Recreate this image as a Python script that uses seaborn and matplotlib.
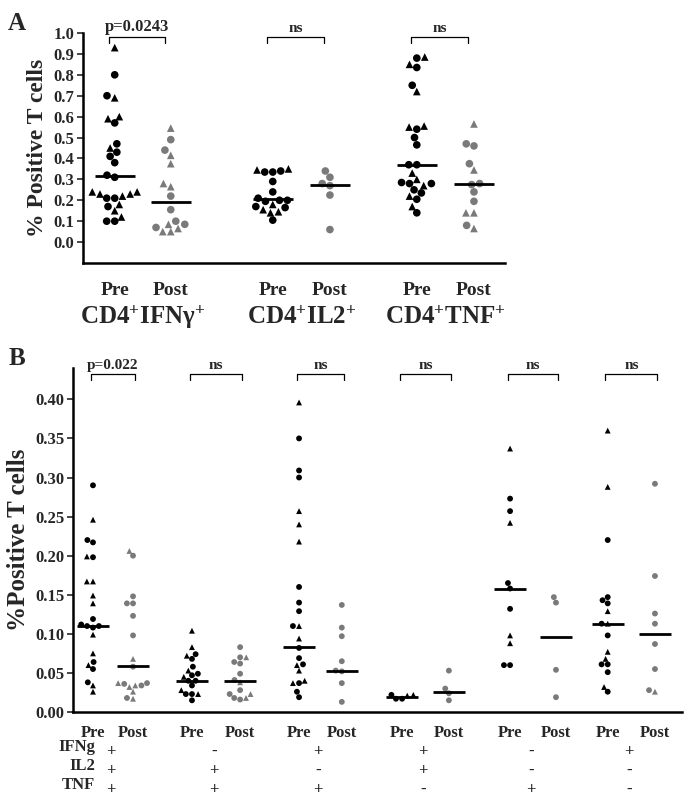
import matplotlib
matplotlib.use("Agg")
import matplotlib.pyplot as plt
from matplotlib.markers import MarkerStyle
import seaborn as sns
import pandas as pd
import numpy as np

sns.set_theme(style="white")
plt.rcParams["font.family"] = ["Liberation Serif", "DejaVu Serif"]
plt.rcParams["font.weight"] = "bold"
plt.rcParams["mathtext.fontset"] = "custom"
plt.rcParams["mathtext.rm"] = "Liberation Serif:bold"
plt.rcParams["mathtext.bf"] = "Liberation Serif:bold"
plt.rcParams["mathtext.it"] = "Liberation Serif:bold"

PRE_COL, POST_COL = "black", "#7a7a7a"

# ── Panel A data ──────────────────────────────────────────────────────────────
a_groups = [r"CD4$^{+}$IFNγ$^{+}$", r"CD4$^{+}$IL2$^{+}$", r"CD4$^{+}$TNF$^{+}$"]
a_pvals = ["p=0.0243", "ns", "ns"]
a_pre_circ = [
    [0.80, 0.70, 0.57, 0.47, 0.43, 0.41, 0.38, 0.32, 0.31, 0.21, 0.21, 0.17, 0.10, 0.10],
    [0.335, 0.34, 0.335, 0.29, 0.24, 0.21, 0.20, 0.195, 0.17, 0.165, 0.105, 0.20],
    [0.88, 0.835, 0.75, 0.54, 0.50, 0.465, 0.37, 0.37, 0.285, 0.28, 0.25, 0.235, 0.205, 0.14, 0.28],
]
a_pre_tri = [
    [0.93, 0.69, 0.60, 0.59, 0.45, 0.24, 0.23, 0.22, 0.23, 0.24, 0.18, 0.15, 0.12],
    [0.345, 0.35, 0.18, 0.145, 0.14, 0.155],
    [0.85, 0.885, 0.72, 0.55, 0.555, 0.33, 0.30, 0.27, 0.22, 0.17],
]
a_post_circ = [
    [0.49, 0.44, 0.22, 0.155, 0.10, 0.085, 0.07],
    [0.34, 0.31, 0.28, 0.27, 0.225, 0.06],
    [0.47, 0.46, 0.375, 0.28, 0.275, 0.24, 0.195, 0.08],
]
a_post_tri = [
    [0.545, 0.415, 0.375, 0.28, 0.265, 0.065, 0.05, 0.05, 0.085],
    [],
    [0.565, 0.345, 0.14, 0.14, 0.065],
]
a_pre_med = [0.315, 0.205, 0.37]
a_post_med = [0.19, 0.275, 0.28]

# ── Panel B data ──────────────────────────────────────────────────────────────
b_pvals = ["p=0.022", "ns", "ns", "ns", "ns", "ns"]
b_ifng = ["+", "-", "+", "+", "-", "+"]
b_il2 = ["+", "+", "-", "+", "-", "-"]
b_tnf = ["+", "+", "+", "-", "+", "-"]
b_pre_circ = [
    [0.29, 0.22, 0.217, 0.198, 0.119, 0.11, 0.11, 0.108, 0.112, 0.064, 0.055, 0.038],
    [0.074, 0.068, 0.058, 0.049, 0.047, 0.04, 0.04, 0.034, 0.023, 0.015, 0.023],
    [0.35, 0.309, 0.30, 0.16, 0.14, 0.129, 0.11, 0.082, 0.069, 0.061, 0.037, 0.026, 0.019],
    [0.022, 0.017, 0.017],
    [0.273, 0.257, 0.165, 0.158, 0.132, 0.06, 0.06],
    [0.22, 0.147, 0.143, 0.139, 0.113, 0.098, 0.061, 0.061, 0.051, 0.026],
]
b_pre_tri = [
    [0.246, 0.199, 0.167, 0.167, 0.149, 0.139, 0.099, 0.075, 0.06, 0.034, 0.026],
    [0.104, 0.083, 0.072, 0.053, 0.045, 0.028, 0.023],
    [0.396, 0.257, 0.24, 0.218, 0.11, 0.094, 0.053, 0.04, 0.037, 0.06],
    [0.022, 0.021],
    [0.337, 0.242, 0.098, 0.088],
    [0.36, 0.288, 0.129, 0.113, 0.077, 0.068, 0.032],
]
b_post_circ = [
    [0.20, 0.148, 0.139, 0.139, 0.123, 0.098, 0.058, 0.037, 0.036, 0.034, 0.018],
    [0.083, 0.07, 0.064, 0.062, 0.049, 0.041, 0.028, 0.023, 0.018, 0.016],
    [0.137, 0.108, 0.097, 0.065, 0.053, 0.052, 0.037, 0.013],
    [0.053, 0.03, 0.015, 0.024],
    [0.14, 0.147, 0.054, 0.019],
    [0.292, 0.174, 0.126, 0.113, 0.087, 0.055, 0.028],
]
b_post_tri = [
    [0.206, 0.068, 0.037, 0.032, 0.026, 0.017, 0.034],
    [0.07, 0.038, 0.023, 0.018],
    [],
    [],
    [],
    [0.026],
]
b_pre_med = [0.11, 0.04, 0.083, 0.019, 0.158, 0.113]
b_post_med = [0.059, 0.04, 0.053, 0.025, 0.096, 0.10]

# tick positions (layout)
a_pos = [0, 1, 2.82, 3.84, 5.39, 6.41]
b_pos = [0, 0.89, 2.2, 3.27, 4.58, 5.53, 6.87, 7.91, 9.27, 10.29, 11.44, 12.49]


def to_frame(pos, pre_c, pre_t, post_c, post_t):
    rows = []
    for i in range(len(pre_c)):
        for shape, pre, post in (("o", pre_c[i], post_c[i]), ("^", pre_t[i], post_t[i])):
            rows += [(pos[2 * i], v, shape, "Pre") for v in pre]
            rows += [(pos[2 * i + 1], v, shape, "Post") for v in post]
    return pd.DataFrame(rows, columns=["x", "value", "shape", "phase"])


def draw(ax, df, pos, pre_med, post_med, size, half):
    sns.swarmplot(data=df, x="x", y="value", hue="phase", native_scale=True,
                  palette={"Pre": PRE_COL, "Post": POST_COL}, size=size, linewidth=0,
                  legend=False, ax=ax, warn_thresh=1)
    circ = MarkerStyle("o").get_path().transformed(MarkerStyle("o").get_transform())
    tri_m = MarkerStyle("^")
    tri = tri_m.get_path().transformed(tri_m.get_transform())
    # give each swarmed point the marker of its data row
    for coll in ax.collections:
        offs = coll.get_offsets()
        if len(offs) == 0:
            continue
        paths = []
        pool = {}
        for px, py in offs:
            xs = min(pos, key=lambda p: abs(p - px))
            key = xs
            if key not in pool:
                pool[key] = df[df["x"] == xs][["value", "shape"]].values.tolist()
            cands = pool[key]
            j = min(range(len(cands)), key=lambda k: abs(cands[k][0] - py))
            paths.append(tri if cands[j][1] == "^" else circ)
            cands.pop(j)
        coll.set_paths(paths)
    for i in range(len(pre_med)):
        ax.hlines(pre_med[i], pos[2 * i] - half, pos[2 * i] + half, color="black", lw=2, zorder=5)
        ax.hlines(post_med[i], pos[2 * i + 1] - half, pos[2 * i + 1] + half, color="black", lw=2, zorder=5)


def bracket(ax, x0, x1, y, h, text, fs):
    ax.plot([x0, x0, x1, x1], [y - h, y, y, y - h], color="black", lw=0.9, clip_on=False)
    ax.text((x0 + x1) / 2, y + h * 0.4, text, ha="center", va="bottom", fontsize=fs,
            fontweight="bold", clip_on=False)


def style(ax):
    for s in ("top", "right"):
        ax.spines[s].set_visible(False)
    for s in ("left", "bottom"):
        ax.spines[s].set_color("black")
        ax.spines[s].set_linewidth(1.8)
    ax.tick_params(axis="y", left=True, length=4, width=1.2, pad=2)
    ax.tick_params(axis="x", bottom=False)


fig = plt.figure(figsize=(6.84, 7.97), dpi=100)

# ── Panel A ───────────────────────────────────────────────────────────────────
axA = fig.add_axes([0.121, 0.670, 0.617, 0.2886])
dfA = to_frame(a_pos, a_pre_circ, a_pre_tri, a_post_circ, a_post_tri)
draw(axA, dfA, a_pos, a_pre_med, a_post_med, 5.5, 0.36)
axA.set_xlim(-0.57, 6.96)
axA.set_ylim(-0.1, 1.0)
axA.set_yticks(np.arange(0, 1.01, 0.1))
axA.set_yticklabels([f"{v:.1f}" for v in np.arange(0, 1.01, 0.1)], fontsize=12, fontweight="bold")
axA.set_xticks(a_pos)
axA.set_xticklabels(["Pre", "Post"] * 3, fontsize=14, fontweight="bold")
axA.tick_params(axis="x", pad=8)
axA.set_xlabel("")
axA.set_ylabel("% Positive T cells", fontsize=17, fontweight="bold", labelpad=4)
style(axA)
for i, p in enumerate(a_pvals):
    bracket(axA, a_pos[2 * i] - 0.1, a_pos[2 * i + 1] - 0.1, 0.98, 0.03, p, 12 if i == 0 else 11)
for i, g in enumerate(a_groups):
    axA.text((a_pos[2 * i] + a_pos[2 * i + 1]) / 2, -0.36, g, ha="center", va="center",
             fontsize=18, fontweight="bold", transform=axA.transData, clip_on=False)
fig.text(0.012, 0.985, "A", fontsize=18, fontweight="bold", va="top")

# ── Panel B ───────────────────────────────────────────────────────────────────
axB = fig.add_axes([0.107, 0.1066, 0.890, 0.4316])
dfB = to_frame(b_pos, b_pre_circ, b_pre_tri, b_post_circ, b_post_tri)
draw(axB, dfB, b_pos, b_pre_med, b_post_med, 4.2, 0.36)
axB.set_xlim(-0.44, 13.09)
axB.set_ylim(0, 0.44)
yt = np.arange(0, 0.41, 0.05)
axB.set_yticks(yt)
axB.set_yticklabels([f"{v:.2f}" for v in yt], fontsize=12, fontweight="bold")
axB.set_xticks(b_pos)
axB.set_xticklabels(["Pre", "Post"] * 6, fontsize=12, fontweight="bold")
axB.tick_params(axis="x", pad=3)
axB.set_xlabel("")
axB.set_ylabel("%Positive T cells", fontsize=18, fontweight="bold", labelpad=4)
style(axB)
for i, p in enumerate(b_pvals):
    bracket(axB, b_pos[2 * i] - 0.05, b_pos[2 * i + 1] + 0.05, 0.432, 0.007, p, 11)
fig.text(0.012, 0.565, "B", fontsize=18, fontweight="bold", va="top")

row_y = [1 - 749 / 797, 1 - 768 / 797, 1 - 787 / 797]
for lab, signs, y in zip(["IFNg", "IL2", "TNF"], [b_ifng, b_il2, b_tnf], row_y):
    fig.text(95 / 684, y + 0.003, lab, ha="right", va="center", fontsize=12, fontweight="bold")
    for i, s in enumerate(signs):
        xd = (b_pos[2 * i] + b_pos[2 * i + 1]) / 2 - 0.05
        xf = fig.transFigure.inverted().transform(axB.transData.transform((xd, 0)))[0]
        fig.text(xf, y - 0.004, s, ha="center", va="center", fontsize=12, fontweight="bold")

fig.savefig("out.png", dpi=100)
